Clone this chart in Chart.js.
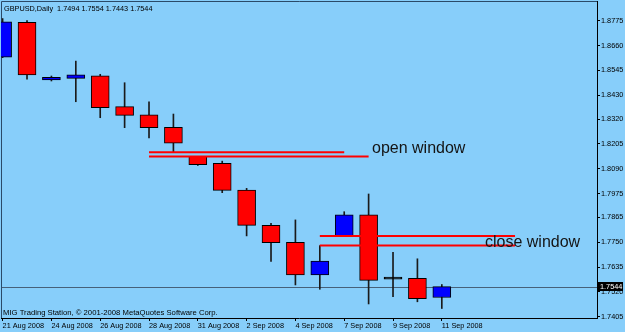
<!DOCTYPE html>
<html lang="en">
<head>
<meta charset="utf-8">
<title>GBPUSD,Daily</title>
<script src="https://cdn.jsdelivr.net/npm/chart.js@4.4.1/dist/chart.umd.min.js"></script>
<style>
  html, body { margin: 0; padding: 0; background: #87cefa; overflow: hidden; }
  canvas { display: block; }
</style>
</head>
<body>
<canvas id="lienzo" width="625" height="332"></canvas>
<script>
"use strict";

const simbolo = "GBPUSD,Daily";
const copyright = "MIG Trading Station, \u00a9 2001-2008 MetaQuotes Software Corp.";

const fechas = ["21 Aug 2008", "22 Aug 2008", "24 Aug 2008", "25 Aug 2008", "26 Aug 2008", "27 Aug 2008",
  "28 Aug 2008", "29 Aug 2008", "31 Aug 2008", "1 Sep 2008", "2 Sep 2008", "3 Sep 2008", "4 Sep 2008",
  "5 Sep 2008", "7 Sep 2008", "8 Sep 2008", "9 Sep 2008", "10 Sep 2008", "11 Sep 2008"];
const aperturas = [1.8606, 1.8768, 1.8501, 1.8508, 1.8520, 1.8377, 1.8339, 1.8282, 1.8147, 1.8115,
  1.7991, 1.7828, 1.7749, 1.7598, 1.7779, 1.7876, 1.7579, 1.7583, 1.7494];
const maximos = [1.8785, 1.8775, 1.8519, 1.8588, 1.8527, 1.8488, 1.8400, 1.8343, 1.8147, 1.8125,
  1.7999, 1.7837, 1.7853, 1.7734, 1.7891, 1.7973, 1.7703, 1.7673, 1.7554];
const minimos = [1.8604, 1.8504, 1.8496, 1.8400, 1.8326, 1.8280, 1.8233, 1.8166, 1.8105, 1.7979,
  1.7779, 1.7661, 1.7552, 1.7532, 1.7779, 1.7464, 1.7498, 1.7474, 1.7443];
const cierres = [1.8770, 1.8524, 1.8513, 1.8524, 1.8372, 1.8337, 1.8280, 1.8208, 1.8109, 1.7990,
  1.7828, 1.7748, 1.7598, 1.7663, 1.7876, 1.7573, 1.7579, 1.7488, 1.7544];

// Marcas del eje de precios (tal como las pone MT4)
const marcasPrecio = [1.8775, 1.8660, 1.8545, 1.8430, 1.8320, 1.8205, 1.8090, 1.7975,
  1.7865, 1.7750, 1.7635, 1.7520, 1.7405];

// Ventanas (gaps): niveles y tramos en numero de vela
const notas = ["open window", "close window"];
const nivelesApertura = [1.8166, 1.8147];
const tramosApertura = [[6, 14], [6, 15]];
const nivelesCierre = [1.7779, 1.7734];
const tramosCierre = [[13, 21], [13, 21]];
const notasX = [15.14, 19.77];
const notasY = [1.8166, 1.7734];

const fuenteChica = { family: "'Liberation Sans', Arial, sans-serif", size: 7.3 };

const decoracion = {
  id: "decoracion",
  beforeDraw(chart) {
    const { ctx, width, height } = chart;
    ctx.save();
    ctx.fillStyle = "#87cefa";
    ctx.fillRect(0, 0, width, height);
    ctx.restore();
  },
  beforeDatasetsDraw(chart) {
    const { ctx, chartArea: a, scales } = chart;
    ctx.save();
    //Linea del precio actual
    const py = Math.round(scales.y.getPixelForValue(cierres[cierres.length - 1])) + 0.5;
    ctx.strokeStyle = "#46617a";
    ctx.lineWidth = 1;
    ctx.beginPath();
    ctx.moveTo(a.left, py);
    ctx.lineTo(a.right, py);
    ctx.stroke();
    //Marco superior e izquierdo
    ctx.strokeStyle = "#2a4a68";
    ctx.beginPath();
    ctx.moveTo(a.left + 0.5, a.bottom);
    ctx.lineTo(a.left + 0.5, a.top + 0.5);
    ctx.lineTo(a.right, a.top + 0.5);
    ctx.stroke();
    ctx.restore();
  },
  afterDatasetsDraw(chart) {
    const { ctx, chartArea: a, scales } = chart;
    ctx.save();
    ctx.fillStyle = "#141414";
    ctx.textBaseline = "alphabetic";
    ctx.font = "16px 'Liberation Sans', Arial, sans-serif";
    notas.forEach((t, i) => {
      ctx.fillText(t, scales.x.getPixelForValue(notasX[i]), scales.y.getPixelForValue(notasY[i]) + 1);
    });
    ctx.fillStyle = "#000";
    ctx.font = `${fuenteChica.size}px ${fuenteChica.family}`;
    const ultimo = cierres.length - 1;
    const cabecera = `${simbolo}  ${aperturas[ultimo].toFixed(4)} ${maximos[ultimo].toFixed(4)} ${minimos[ultimo].toFixed(4)} ${cierres[ultimo].toFixed(4)}`;
    ctx.fillText(cabecera, a.left + 3, a.top + 10);
    ctx.font = `7.7px ${fuenteChica.family}`;
    ctx.fillText(copyright, a.left + 2, a.bottom - 3);
    ctx.restore();
  },
  afterDraw(chart) {
    const { ctx, chartArea: a, scales } = chart;
    const precio = cierres[cierres.length - 1];
    const py = Math.round(scales.y.getPixelForValue(precio));
    ctx.save();
    ctx.fillStyle = "#000";
    ctx.fillRect(a.right + 1, py - 5, 25, 9);
    ctx.fillStyle = "#fff";
    ctx.font = `${fuenteChica.size}px ${fuenteChica.family}`;
    ctx.textBaseline = "middle";
    ctx.fillText(precio.toFixed(4), a.right + 3, py);
    ctx.restore();
  },
};

const GraficoModule = {
  init() {
    this.load();
  },

  load() {
    const lienzo = document.getElementById("lienzo").getContext("2d");
    const indices = fechas.map((f, i) => i);

    const coloresCuerpo = indices.map((i) =>
      cierres[i] > aperturas[i] ? "#0000ff" : cierres[i] < aperturas[i] ? "#ff0000" : "#000000"
    );

    const linea = (nivel, tramo) => ({
      type: "line",
      data: [{ x: tramo[0], y: nivel }, { x: tramo[1], y: nivel }],
      borderColor: "#ff0000",
      borderWidth: 2,
      pointRadius: 0,
      order: 0,
    });

    this.grafico = new Chart(lienzo, {
      type: "bar",
      data: {
        datasets: [
          linea(nivelesApertura[0], tramosApertura[0]),
          linea(nivelesApertura[1], tramosApertura[1]),
          linea(nivelesCierre[0], tramosCierre[0]),
          linea(nivelesCierre[1], tramosCierre[1]),
          {
            label: "cuerpos",
            data: indices.map((i) => ({ x: i, y: [aperturas[i], cierres[i]] })),
            backgroundColor: coloresCuerpo,
            borderColor: "#000",
            borderWidth: 1,
            borderSkipped: false,
            barThickness: 18,
            minBarLength: 2,
            grouped: false,
            order: 1,
          },
          {
            label: "mechas",
            data: indices.map((i) => ({ x: i, y: [minimos[i], maximos[i]] })),
            backgroundColor: "#1a1a1a",
            borderWidth: 0,
            barThickness: 1,
            grouped: false,
            order: 2,
          },
        ],
      },
      options: {
        responsive: false,
        animation: false,
        devicePixelRatio: 1,
        layout: { padding: { left: 1, top: 1, right: 0, bottom: 0 } },
        plugins: { legend: { display: false }, tooltip: { enabled: false } },
        scales: {
          x: {
            type: "linear",
            offset: false,
            min: -0.066,
            max: 24.36,
            afterBuildTicks: (s) => {
              s.ticks = indices.filter((i) => i % 2 === 0).map((i) => ({ value: i }));
            },
            afterFit: (s) => {
              s.height = 14;
              s.paddingLeft = 0;
              s.paddingRight = 0;
            },
            border: { display: true, color: "#000", width: 1 },
            grid: { drawOnChartArea: false, offset: false, tickLength: 3, color: "#000" },
            ticks: {
              align: "start",
              maxRotation: 0,
              autoSkip: false,
              padding: 1,
              color: "#000",
              font: fuenteChica,
              callback: (v) => fechas[v],
            },
          },
          y: {
            type: "linear",
            position: "right",
            beginAtZero: false,
            bounds: "data",
            min: 1.7399,
            max: 1.88662,
            afterBuildTicks: (s) => {
              s.ticks = marcasPrecio.map((v) => ({ value: v }));
            },
            afterFit: (s) => {
              s.width = 28;
              s.paddingTop = 0;
              s.paddingBottom = 0;
            },
            border: { display: true, color: "#000", width: 1 },
            grid: { drawOnChartArea: false, tickLength: 3, color: "#000" },
            ticks: {
              autoSkip: false,
              padding: 1,
              color: "#000",
              font: fuenteChica,
              callback: (v) => v.toFixed(4),
            },
          },
        },
      },
      plugins: [decoracion],
    });
  },
};

GraficoModule.init();
</script>
</body>
</html>
